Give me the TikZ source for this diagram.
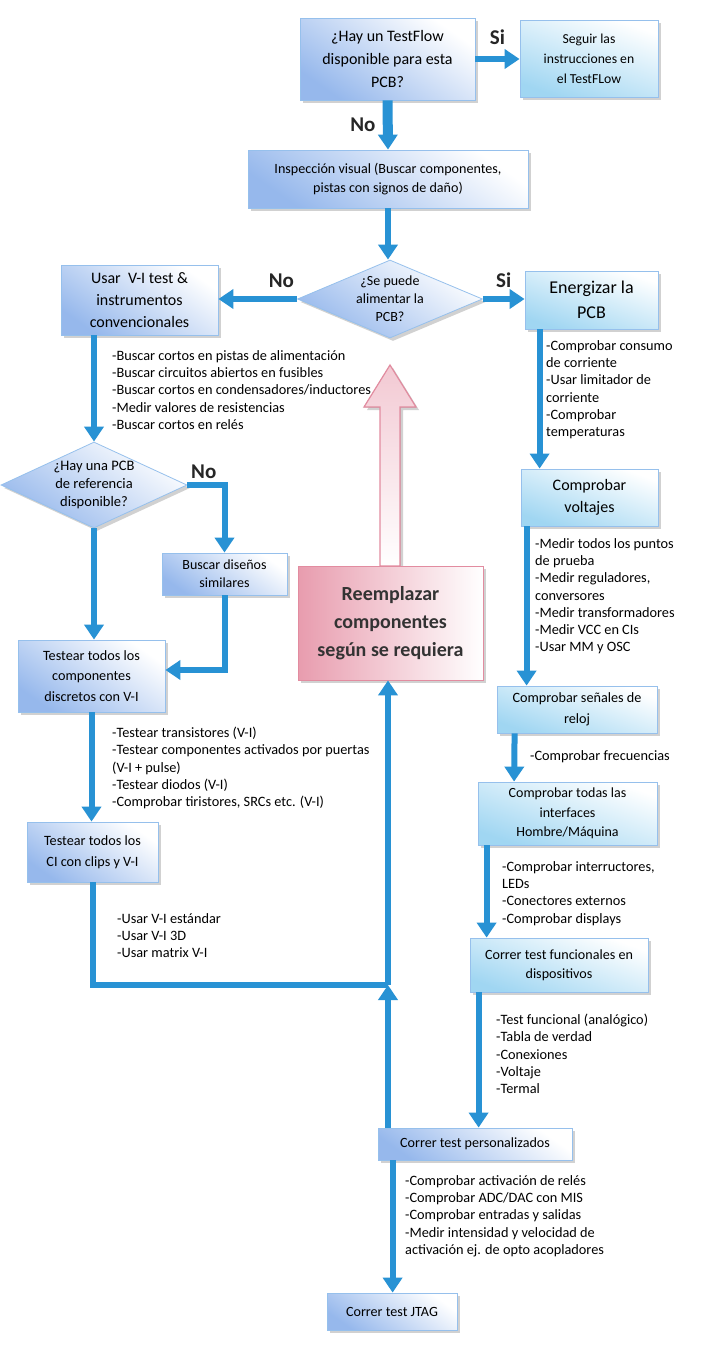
\documentclass[tikz,border=0pt]{standalone}
\usepackage{fontspec}
\setmainfont{Carlito}
\usetikzlibrary{arrows.meta,shapes.geometric,shadows}

\definecolor{flowblue}{RGB}{40,146,212}
\definecolor{boxline}{RGB}{150,192,236}
\definecolor{boxblue}{RGB}{150,184,236}
\definecolor{boxcyan}{RGB}{160,214,242}
\definecolor{pinkline}{RGB}{226,140,160}
\definecolor{boxpink}{RGB}{232,156,174}

\tikzset{
  box/.style={draw=boxline, line width=0.8pt, align=center, inner sep=2pt,
    drop shadow={shadow xshift=3pt, shadow yshift=-3pt, fill=black!40, opacity=0.45},
    font=\fontsize{14.1pt}{19.5pt}\selectfont},
  bluebox/.style={box, top color=white, bottom color=boxblue, shading angle=-35},
  cyanbox/.style={box, top color=white, bottom color=boxcyan, shading angle=-20},
  decision/.style={bluebox, diamond, inner sep=0pt},
  pinkbox/.style={box, draw=pinkline, left color=boxpink, right color=white},
  pinkarrow/.style={draw=pinkline, line width=1.2pt, top color=boxpink!55, bottom color=white,
    drop shadow={shadow xshift=3pt, shadow yshift=-3pt, fill=black!40, opacity=0.45}},
  flow/.style={draw=flowblue, line width=6pt, -{Triangle[length=15pt, width=19pt]}},
  lbl/.style={font=\fontsize{21pt}{21pt}\bfseries\selectfont, text=black!85},
  note/.style={anchor=north west, align=left, inner sep=0pt, font=\fontsize{14.3pt}{17.3pt}\selectfont}
}

\begin{document}
\begin{tikzpicture}[x=1pt, y=-1pt]
  \fill[white] (0,0) rectangle (706,1369);
  \useasboundingbox (0,0) rectangle (706,1369);

  % top
  \node[bluebox, minimum width=175pt, minimum height=82pt, font=\fontsize{16pt}{23pt}\selectfont] (q1) at (387.5,59) {¿Hay un TestFlow\\disponible para esta\\PCB?};
  \node[cyanbox, minimum width=138pt, minimum height=77pt, font=\fontsize{13.7pt}{20pt}\selectfont] (seguir) at (589,58.5) {Seguir las\\instrucciones en\\el TestFLow};
  \node[bluebox, minimum width=280pt, minimum height=58pt] (insp) at (388,179) {Inspección visual (Buscar componentes,\\pistas con signos de daño)};
  \node[decision, aspect=2.37, minimum width=185pt, minimum height=78pt, font=\fontsize{14pt}{18pt}\selectfont] (q2) at (390,299) {¿Se puede\\alimentar la\\PCB?};

  % left column
  \node[bluebox, minimum width=157pt, minimum height=70pt, font=\fontsize{16pt}{22pt}\selectfont] (usar) at (139.5,300) {Usar\ \ V-I test \&\\instrumentos\\convencionales};
  \node[decision, aspect=2.16, minimum width=186pt, minimum height=86pt, font=\fontsize{14.5pt}{18pt}\selectfont] (q3) at (94,485) {¿Hay una PCB\\de referencia\\disponible?};
  \node[bluebox, minimum width=125pt, minimum height=42pt, font=\fontsize{14pt}{18pt}\selectfont] (buscar) at (224.5,574) {Buscar diseños\\similares};
  \node[bluebox, minimum width=147pt, minimum height=72pt, font=\fontsize{14.2pt}{20.7pt}\selectfont] (discr) at (91.5,676) {Testear todos los\\componentes\\discretos con V-I};
  \node[bluebox, minimum width=131pt, minimum height=60pt, font=\fontsize{14.2pt}{20.7pt}\selectfont] (ci) at (92.5,852) {Testear todos los\\CI con clips y V-I};

  % middle
  \filldraw[pinkarrow] (380,566) -- (380,407) -- (364,407) -- (390,365) -- (416,407) -- (400,407) -- (400,566) -- cycle;
  \node[pinkbox, minimum width=185pt, minimum height=114pt, font=\fontsize{20pt}{28pt}\bfseries\selectfont, text=black!80] (reempl) at (390.5,623) {Reemplazar\\componentes\\según se requiera};

  % right column
  \node[cyanbox, minimum width=133pt, minimum height=58pt, font=\fontsize{18pt}{25pt}\selectfont] (energ) at (591.5,300) {Energizar la\\PCB};
  \node[cyanbox, minimum width=137pt, minimum height=57pt, font=\fontsize{16pt}{22pt}\selectfont] (volt) at (589.5,497.5) {Comprobar\\voltajes};
  \node[cyanbox, minimum width=160pt, minimum height=47pt, font=\fontsize{14.2pt}{21pt}\selectfont] (reloj) at (577,709.5) {Comprobar señales de\\reloj};
  \node[cyanbox, minimum width=179pt, minimum height=63pt, font=\fontsize{14pt}{19.5pt}\selectfont] (interf) at (567.5,813.5) {Comprobar todas las\\interfaces\\Hombre/Máquina};
  \node[cyanbox, minimum width=178pt, minimum height=54pt] (func) at (559,965) {Correr test funcionales en\\dispositivos};
  \node[bluebox, minimum width=194pt, minimum height=32pt] (pers) at (475,1144) {Correr test personalizados};
  \node[bluebox, minimum width=130pt, minimum height=37pt] (jtag) at (392,1311.5) {Correr test JTAG};

  \coordinate (j) at (388,985);

  % notes
  \node[note] (n1) at (112,350) {-Buscar cortos en pistas de alimentación\\-Buscar circuitos abiertos en fusibles\\-Buscar cortos en condensadores/inductores\\-Medir valores de resistencias\\-Buscar cortos en relés};
  \node[note] (n2) at (546,340) {-Comprobar consumo\\de corriente\\-Usar limitador de\\corriente\\-Comprobar\\temperaturas};
  \node[note] (n3) at (112,727) {-Testear transistores (V-I)\\-Testear componentes activados por puertas\\(V-I + pulse)\\-Testear diodos (V-I)\\-Comprobar tiristores, SRCs etc. (V-I)};
  \node[note] (n4) at (117,913) {-Usar V-I estándar\\-Usar V-I 3D\\-Usar matrix V-I};
  \node[note] (n5) at (535,538) {-Medir todos los puntos\\de prueba\\-Medir reguladores,\\conversores\\-Medir transformadores\\-Medir VCC en CIs\\-Usar MM y OSC};
  \node[note] (n6) at (530,750) {-Comprobar frecuencias};
  \node[note] (n7) at (502,861) {-Comprobar interructores,\\LEDs\\-Conectores externos\\-Comprobar displays};
  \node[note] (n8) at (496,1014) {-Test funcional (analógico)\\-Tabla de verdad\\-Conexiones\\-Voltaje\\-Termal};
  \node[note] (n9) at (405,1175) {-Comprobar activación de relés\\-Comprobar ADC/DAC con MIS\\-Comprobar entradas y salidas\\-Medir intensidad y velocidad de\\activación ej. de opto acopladores};

  % connectors
  \draw[flow] (q1.east) -- node[lbl, above=8pt] {Si} (q1.east -| seguir.west);
  \draw[flow, line width=10pt] (q1.south) -- node[lbl, left=4pt] {No} (insp.north);
  \draw[flow] (insp.south) -- (insp.south |- q2.north);
  \draw[flow] (q2.west) -- node[lbl, above=5pt, pos=0.2] {No} (q2.west -| usar.east);
  \draw[flow] (q2.east) -- node[lbl, above=5pt] {Si} (q2.east -| energ.west);
  \draw[flow] (usar.south -| q3.north) -- (q3.north);
  \draw[flow] (q3.east) -| node[lbl, above, pos=0.22] {No} (buscar.north);
  \draw[flow] (q3.south) -- (q3.south |- discr.north);
  \draw[flow] (buscar.south) |- ([yshift=6pt]discr.east);
  \draw[flow] (discr.south) -- (discr.south |- ci.north);
  \draw[flow, -] (ci.south) |- (j);
  \draw[flow] (pers.north -| j) -- (j);
  \draw[flow] (j) -- (j |- reempl.south);

  \draw[flow] ([xshift=15pt]energ.south west) -- ([xshift=19pt]volt.north west);
  \draw[flow] ([xshift=6pt]volt.south west) -- ([xshift=30pt]reloj.north west);
  \draw[flow] ([xshift=18pt]reloj.south west) -- ([xshift=36.5pt]interf.north west);
  \draw[flow] ([xshift=9pt]interf.south west) -- ([xshift=17pt]func.north west);
  \draw[flow] ([xshift=9pt]func.south west) -- ([xshift=101pt]pers.north west);
  \draw[flow] ([xshift=15pt]pers.south west) -- ([xshift=66pt]jtag.north west);
\end{tikzpicture}
\end{document}
